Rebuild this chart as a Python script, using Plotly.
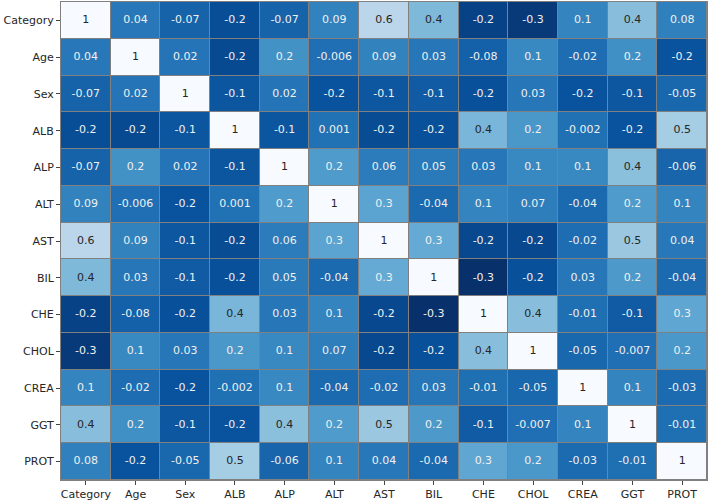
import plotly.graph_objects as go
import plotly.colors as pc

labels = ["Category", "Age", "Sex", "ALB", "ALP", "ALT", "AST", "BIL", "CHE", "CHOL", "CREA", "GGT", "PROT"]

r_category = [1, 0.04, -0.07, -0.18, -0.07, 0.09, 0.62, 0.40, -0.24, -0.28, 0.10, 0.43, 0.08]
r_age      = [0.04, 1, 0.02, -0.20, 0.17, -0.006, 0.09, 0.03, -0.08, 0.12, -0.02, 0.16, -0.16]
r_sex      = [-0.07, 0.02, 1, -0.14, 0.02, -0.16, -0.13, -0.11, -0.17, 0.03, -0.16, -0.13, -0.05]
r_alb      = [-0.18, -0.20, -0.14, 1, -0.14, 0.001, -0.19, -0.17, 0.38, 0.20, -0.002, -0.16, 0.53]
r_alp      = [-0.07, 0.17, 0.02, -0.14, 1, 0.22, 0.06, 0.05, 0.03, 0.12, 0.12, 0.44, -0.06]
r_alt      = [0.09, -0.006, -0.16, 0.001, 0.22, 1, 0.27, -0.04, 0.10, 0.07, -0.04, 0.22, 0.10]
r_ast      = [0.62, 0.09, -0.13, -0.19, 0.06, 0.27, 1, 0.31, -0.21, -0.21, -0.02, 0.49, 0.04]
r_bil      = [0.40, 0.03, -0.11, -0.17, 0.05, -0.04, 0.31, 1, -0.33, -0.17, 0.03, 0.21, -0.04]
r_che      = [-0.24, -0.08, -0.17, 0.38, 0.03, 0.10, -0.21, -0.33, 1, 0.43, -0.01, -0.11, 0.29]
r_chol     = [-0.28, 0.12, 0.03, 0.20, 0.12, 0.07, -0.21, -0.17, 0.43, 1, -0.05, -0.007, 0.20]
r_crea     = [0.10, -0.02, -0.16, -0.002, 0.12, -0.04, -0.02, 0.03, -0.01, -0.05, 1, 0.10, -0.03]
r_ggt      = [0.43, 0.16, -0.13, -0.16, 0.44, 0.22, 0.49, 0.21, -0.11, -0.007, 0.10, 1, -0.01]
r_prot     = [0.08, -0.16, -0.05, 0.53, -0.06, 0.10, 0.04, -0.04, 0.29, 0.20, -0.03, -0.01, 1]

matrix = [r_category, r_age, r_sex, r_alb, r_alp, r_alt, r_ast, r_bil, r_che, r_chol, r_crea, r_ggt, r_prot]

vmin = min(min(r) for r in matrix)
vmax = max(max(r) for r in matrix)

fig = go.Figure()
fig.add_trace(go.Heatmap(
    z=matrix, x=labels, y=labels,
    colorscale=pc.sequential.Blues_r, zmin=vmin, zmax=vmax,
    showscale=False, xgap=1, ygap=1, hoverinfo="skip",
))

def fmt(v):
    return "%.1g" % v

dark_x, dark_y, dark_t = [], [], []
light_x, light_y, light_t = [], [], []
for i, row in enumerate(matrix):
    for j, v in enumerate(row):
        norm = (v - vmin) / (vmax - vmin)
        if norm > 0.5:
            dark_x.append(labels[j]); dark_y.append(labels[i]); dark_t.append(fmt(v))
        else:
            light_x.append(labels[j]); light_y.append(labels[i]); light_t.append(fmt(v))

fig.add_trace(go.Scatter(x=dark_x, y=dark_y, text=dark_t, mode="text",
                         textfont=dict(color="#262626", size=11, family="DejaVu Sans"),
                         hoverinfo="skip", showlegend=False, cliponaxis=False))
fig.add_trace(go.Scatter(x=light_x, y=light_y, text=light_t, mode="text",
                         textfont=dict(color="#f0f0f0", size=11, family="DejaVu Sans"),
                         hoverinfo="skip", showlegend=False, cliponaxis=False))

n = len(labels)
fig.update_layout(
    width=708, height=501,
    margin=dict(l=61, r=1, t=2, b=21, autoexpand=False),
    paper_bgcolor="white", plot_bgcolor="gray",
    font=dict(family="DejaVu Sans", size=11, color="#262626"),
    showlegend=False,
)
fig.update_xaxes(showgrid=False, zeroline=False, ticks="outside", ticklen=4, tickcolor="#444",
                 range=[-0.5, n - 0.5], automargin=False,
                 showline=True, linecolor="gray", linewidth=1, mirror=True,
                 tickfont=dict(size=11, color="#262626"))
fig.update_yaxes(showgrid=False, zeroline=False, ticks="outside", ticklen=4, tickcolor="#444",
                 range=[n - 0.5, -0.5], automargin=False,
                 showline=True, linecolor="gray", linewidth=1, mirror=True,
                 tickfont=dict(size=11, color="#262626"))

fig.write_html(
    "out.html",
    config={"displayModeBar": False},
    post_script="document.body.style.margin='0';document.body.style.overflow='hidden';",
)
